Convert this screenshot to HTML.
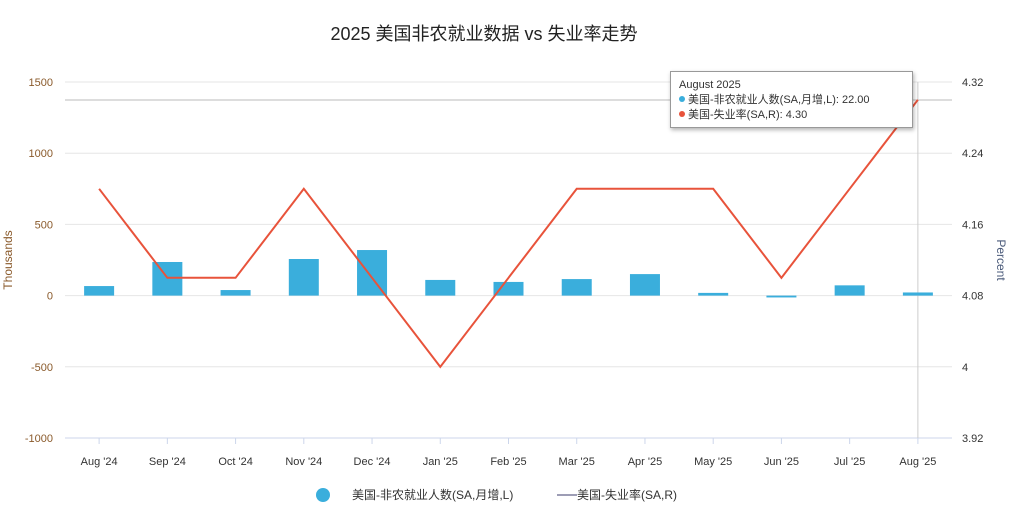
<!DOCTYPE html>
<html><head><meta charset="utf-8"><style>
body{margin:0;background:#fff;font-family:"Liberation Sans","Noto Sans CJK SC",sans-serif}
#wrap{position:relative;width:1009px;height:510px;overflow:hidden}
svg text{font-family:"Liberation Sans","Noto Sans CJK SC",sans-serif}
#tip{position:absolute;left:670px;top:71px;width:243px;height:57px;background:#fff;border:1px solid #999;box-shadow:1px 2px 4px rgba(0,0,0,.3);font-size:11px;color:#333;box-sizing:border-box;padding:6px 8px;line-height:15px}
.dot{display:inline-block;width:6px;height:6px;border-radius:50%;margin-right:3px;vertical-align:1px}
</style></head><body>
<div id="wrap">
<svg id="chart" width="1009" height="510"></svg>
<div id="tip">
<div>August 2025</div>
<div><span class="dot" style="background:#3aaedc"></span>美国-非农就业人数(SA,月增,L): 22.00</div>
<div><span class="dot" style="background:#e8533b"></span>美国-失业率(SA,R): 4.30</div>
</div>
</div>
<script>
const categories=["Aug '24","Sep '24","Oct '24","Nov '24","Dec '24","Jan '25","Feb '25","Mar '25","Apr '25","May '25","Jun '25","Jul '25","Aug '25"];
const payrolls=[67,236,39,257,320,110,96,116,151,19,-13,72,22];
const unemployment=[4.2,4.1,4.1,4.2,4.1,4.0,4.1,4.2,4.2,4.2,4.1,4.2,4.3];
const leftTicks=[-1000,-500,0,500,1000,1500];
const rightTicks=[3.92,4,4.08,4.16,4.24,4.32];
const rightTickLabels=["3.92","4","4.08","4.16","4.24","4.32"];
const NS="http://www.w3.org/2000/svg";
const svg=document.getElementById('chart');
const L=65,R=952,T=82,B=438;
const yL=v=>B-(v+1000)/2500*(B-T);
const yR=v=>B-(v-3.92)/0.4*(B-T);
const step=(R-L)/categories.length;
const x=i=>L+step*(i+0.5);
function mk(t,a,txt){const e=document.createElementNS(NS,t);for(const k in a)e.setAttribute(k,a[k]);if(txt!==undefined)e.textContent=txt;svg.appendChild(e);return e;}
let e;
e=mk('text',{x:484,y:40,'text-anchor':'middle','font-size':18,fill:'#222'},'2025 美国非农就业数据 vs 失业率走势');


leftTicks.forEach((v,i)=>{
 e=mk('line',{x1:L,x2:R,y1:yL(v),y2:yL(v),stroke:'#e6e6e6'});
 
 
 e=mk('text',{x:53,y:yL(v)+4,'text-anchor':'end','font-size':11,fill:'#8a5a2b'},v);
 
 
});
rightTicks.forEach((v,i)=>{
 e=mk('text',{x:962,y:yR(v)+4,'font-size':11,fill:'#333'},rightTickLabels[i]);
 
 
});
e=mk('line',{x1:L,x2:R,y1:B,y2:B,stroke:'#ccd6eb'});


e=mk('text',{x:12,y:260,'text-anchor':'middle','font-size':12,fill:'#8a5a2b',transform:'rotate(-90 12 260)'},'Thousands');


e=mk('text',{x:997,y:260,'text-anchor':'middle','font-size':12,fill:'#4a5a7a',transform:'rotate(90 997 260)'},'Percent');


categories.forEach((c,i)=>{
 e=mk('line',{x1:x(i),x2:x(i),y1:B,y2:B+6,stroke:'#ccd6eb'});
 
 
 e=mk('text',{x:x(i),y:465,'text-anchor':'middle','font-size':11,fill:'#333'},c);
 
 
});
// crosshairs
e=mk('line',{x1:L,x2:R,y1:100,y2:100,stroke:'#bbb'});


e=mk('line',{x1:x(12),x2:x(12),y1:T,y2:B,stroke:'#ccc'});


payrolls.forEach((v,i)=>{
 const y0=yL(0),y1=yL(v);
 e=mk('rect',{x:x(i)-15,y:Math.min(y0,y1),width:30,height:Math.max(1,Math.abs(y1-y0)),fill:'#3aaedc'});
 
 
});
e=mk('polyline',{points:unemployment.map((v,i)=>x(i)+','+yR(v)).join(' '),fill:'none',stroke:'#e8533b','stroke-width':2});


e=mk('circle',{cx:323,cy:495,r:7,fill:'#3aaedc'});


e=mk('text',{x:352,y:499,'font-size':12,fill:'#333'},'美国-非农就业人数(SA,月增,L)');


e=mk('line',{x1:557,x2:577,y1:495,y2:495,stroke:'#3b3b6b','stroke-width':1});


e=mk('text',{x:577,y:499,'font-size':12,fill:'#333'},'美国-失业率(SA,R)');


</script>
</body></html>
